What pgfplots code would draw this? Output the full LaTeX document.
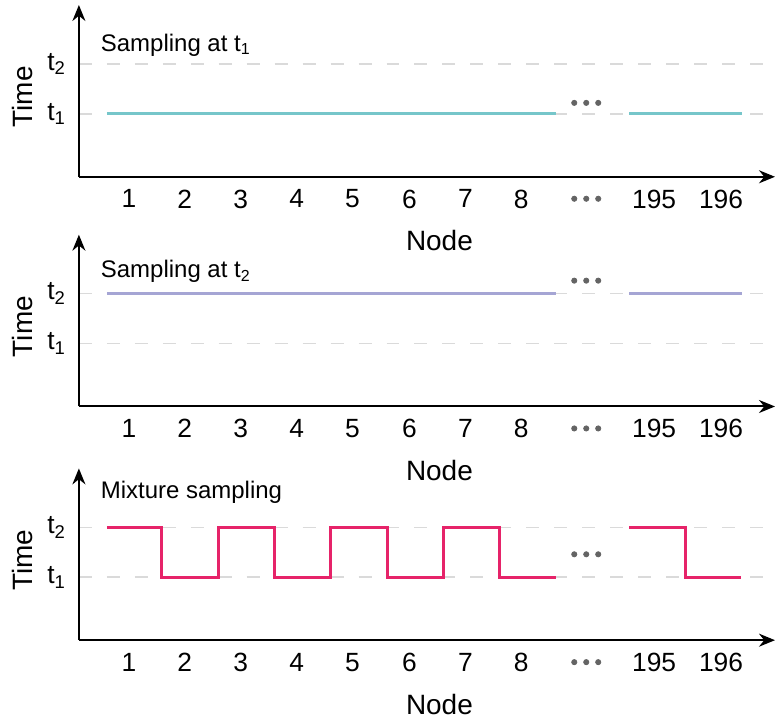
\documentclass[border=0pt]{standalone}
\usepackage{fontspec}
\setmainfont{Liberation Sans}
\usepackage{pgfplots}
\pgfplotsset{compat=1.18}
\usetikzlibrary{arrows.meta}
\definecolor{cteal}{RGB}{118,198,202}
\definecolor{clav}{RGB}{165,165,212}
\definecolor{cpink}{RGB}{230,35,105}
\definecolor{gridgray}{RGB}{218,218,218}
\definecolor{dotgray}{RGB}{100,100,100}

\pgfplotsset{panel/.style={
    x=0.5pt, y=0.5pt,
    xmin=79, xmax=776, ymin=0, ymax=172,
    axis lines=left,
    axis line style={line width=1pt, -{Stealth[length=8pt,width=6.5pt]}},
    xtick={129,185,241,297,353,410,466,522,655,722},
    xticklabels={1,2,3,4,5,6,7,8,195,196},
    ytick={63,113},
    yticklabels={t\textsubscript{1},t\textsubscript{2}},
    major tick length=0,
    ymajorgrids=true,
    grid style={line width=0.8pt, gridgray, dash pattern=on 6.5pt off 7.5pt},
    tick label style={font=\fontsize{13.2}{15}\selectfont},
    xticklabel style={yshift=-3pt},
    yticklabel style={xshift=-3pt},
    clip=false,
}}
\newcommand{\labels}[1]{%
  \node[font=\fontsize{14}{16}\selectfont] at (axis cs:440,-64) {Node};
  \node[font=\fontsize{14}{16}\selectfont, rotate=90] at (axis cs:23,80) {Time};
  \addplot[only marks, mark=*, mark size=1.3pt, dotgray] coordinates {(575,-22) (587,-22) (599,-22)};
  \addplot[only marks, mark=*, mark size=1.3pt, dotgray] coordinates {(575,#1) (587,#1) (599,#1)};
}

\begin{document}
\begin{tikzpicture}
% panel 1
\begin{axis}[panel, at={(0pt,0pt)}]
\addplot[cteal, line width=1.6pt] coordinates {(107,63) (557,63)};
\addplot[cteal, line width=1.6pt] coordinates {(630,63) (743,63)};
\labels{74}
\node[anchor=west, font=\fontsize{12}{14}\selectfont] at (axis cs:94,132) {Sampling at t\textsubscript{1}};
\end{axis}
% panel 2
\begin{axis}[panel, at={(0pt,-115pt)}]
\addplot[clav, line width=1.6pt] coordinates {(107,113) (557,113)};
\addplot[clav, line width=1.6pt] coordinates {(630,113) (743,113)};
\labels{126}
\node[anchor=west, font=\fontsize{12}{14}\selectfont] at (axis cs:94,135) {Sampling at t\textsubscript{2}};
\end{axis}
% panel 3
\begin{axis}[panel, at={(0pt,-232pt)}]
\addplot[cpink, line width=1.6pt] coordinates {
  (107,113) (162,113) (162,63) (219,63) (219,113) (275,113) (275,63)
  (331,63) (331,113) (388,113) (388,63) (444,63) (444,113) (500,113)
  (500,63) (557,63)};
\addplot[cpink, line width=1.6pt] coordinates {(630,113) (686,113) (686,63) (742,63)};
\labels{86}
\node[anchor=west, font=\fontsize{12}{14}\selectfont] at (axis cs:94,148) {Mixture sampling};
\end{axis}
\path (-39.5pt,88.5pt) rectangle (348.5pt,-273.5pt);
\end{tikzpicture}
\end{document}
